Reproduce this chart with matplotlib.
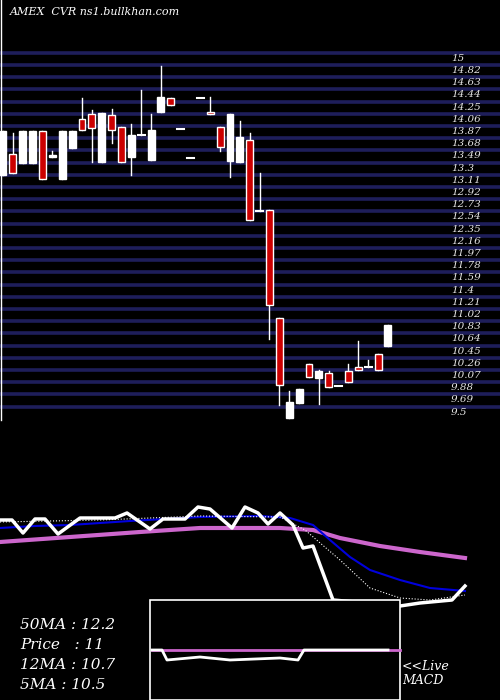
import matplotlib
matplotlib.use("Agg")
import matplotlib.pyplot as plt
from matplotlib.patches import Rectangle

# ---- price data (candles) ----
opens  = [13.16,13.49,13.35,13.35,13.85,13.44,13.10,13.58,14.03,14.11,13.36,14.10,13.91,13.44,13.79,13.40,14.14,14.36,13.88,13.43,14.36,14.14,13.91,13.38,13.36,13.71,12.60,12.62,10.93,9.38,9.61,10.22,10.00,10.08,9.88,10.11,10.17,10.17,10.37,10.50]
closes = [13.85,13.19,13.85,13.85,13.10,13.48,13.85,13.85,13.86,13.89,14.13,13.86,13.36,13.79,13.79,13.86,14.38,14.25,13.88,13.43,14.36,14.11,13.60,14.11,13.75,12.46,12.60,11.14,9.89,9.63,9.83,10.02,10.11,9.86,9.88,9.94,10.12,10.17,10.12,10.83]
highs  = [13.85,13.82,13.85,13.85,13.85,13.53,13.85,13.85,14.36,14.17,14.13,14.19,13.91,13.96,14.49,14.11,14.86,14.36,13.88,13.43,14.36,14.38,13.91,14.11,14.00,13.82,13.19,12.62,10.93,9.80,9.83,10.22,10.13,10.11,9.88,10.22,10.58,10.28,10.37,10.83]
lows   = [13.16,13.19,13.35,13.35,13.10,13.44,13.10,13.58,13.86,13.36,13.36,13.66,13.36,13.16,13.79,13.40,14.14,14.25,13.88,13.43,14.36,14.11,13.54,13.13,13.36,12.46,12.60,10.61,9.58,9.38,9.61,10.02,9.59,9.86,9.88,9.94,10.12,10.17,10.12,10.50]
levels = [15,14.82,14.63,14.44,14.25,14.06,13.87,13.68,13.49,13.3,13.11,12.92,12.73,12.54,12.35,12.16,11.97,11.78,11.59,11.4,11.21,11.02,10.83,10.64,10.45,10.26,10.07,9.88,9.69,9.5]

# ---- indicator panel (values in panel units) ----
px_x   = [0,12,23,35,45,58,80,115,127,150,163,185,198,210,232,245,258,268,280,293,303,313,333,400,420,452,465]
px_y   = [520,520,533,519,519,534,518,518,513,529,519,519,507,509,528,507,513,524,513,525,548,546,600,606,603,600,586]
blue_x = [0,35,70,130,200,260,290,313,330,350,370,400,430,465]
blue_y = [528,526,525,521,517,516,518,525,540,557,570,580,588,591]
mag_x  = [0,70,140,200,280,313,340,380,420,465]
mag_y  = [542,537,532,528,528,530,538,546,552,558]
dot_x  = [0,100,200,280,305,340,370,400,430,465]
dot_y  = [522,520,516,517,530,560,588,598,600,595]
macd_x = [152,162,167,200,230,280,298,304,388]
macd_y = [650,650,660,657,660,658,660,650,650]
sig_x  = [152,400]
sig_y  = [650,650]

fig = plt.figure(figsize=(5,7), dpi=100, facecolor="black")

# price axes
ax = fig.add_axes([0,0,1,1], facecolor="black")
spacing = 9.87
ax.set_xlim(-3/spacing, (500-3)/spacing)
ax.set_ylim(15-643/64.2, 15+57/64.2)
ax.axis("off")
gofs = 0.055
for lv in levels:
    ax.axhline(lv+gofs, color="#1e1e5a", lw=2.6, zorder=0)
    ax.text(451/spacing - 0.3, lv+gofs-0.015, str(lv), color="#e6e6e6", fontsize=7.5,
            family="DejaVu Serif", style="italic", va="top", ha="left")
w = 0.7
for i,(o,c,h,l) in enumerate(zip(opens,closes,highs,lows)):
    col = "white" if c > o else ("#cc0000" if c < o else "white")
    ax.plot([i,i],[l,h], color="white", lw=1, zorder=2)
    lo, hi = min(o,c), max(o,c)
    if hi - lo < 0.03:
        ax.plot([i-w/2,i+w/2],[lo,lo], color="white", lw=1.5, zorder=3)
    else:
        ax.add_patch(Rectangle((i-w/2, lo), w, hi-lo, facecolor=col,
                               edgecolor="white", lw=1, zorder=3))
ax.axvline(-0.2, ymin=0.4, ymax=1, color="white", lw=1)

# indicator axes (panel units)
bx = fig.add_axes([0,0,1,1], facecolor="none")
bx.set_xlim(0,500); bx.set_ylim(700,0); bx.axis("off")
bx.plot(mag_x, mag_y, color="#cc66cc", lw=3)
bx.plot(blue_x, blue_y, color="#0000dd", lw=1.5)
bx.plot(dot_x, dot_y, color="white", lw=0.8, ls=":")
bx.plot(px_x, px_y, color="white", lw=2.5)
bx.add_patch(Rectangle((150,600),250,100, facecolor="black", edgecolor="white", lw=1.2, zorder=5))
bx.plot(sig_x, sig_y, color="#cc66cc", lw=2, zorder=6)
bx.plot(macd_x, macd_y, color="white", lw=2, zorder=7)

tk = dict(color="white", family="DejaVu Serif", style="italic")
bx.text(10,12,"AMEX  CVR ns1.bullkhan.com", fontsize=8, va="center", **tk)
for y,s in [(625,"50MA : 12.2"),(645,"Price   : 11"),(665,"12MA : 10.7"),(685,"5MA : 10.5")]:
    bx.text(20,y,s,fontsize=11,va="center",**tk)
bx.text(402,666,"<<Live",fontsize=9,va="center",**tk)
bx.text(402,681,"MACD",fontsize=9,va="center",**tk)

fig.savefig("out.png", dpi=100, facecolor="black")
